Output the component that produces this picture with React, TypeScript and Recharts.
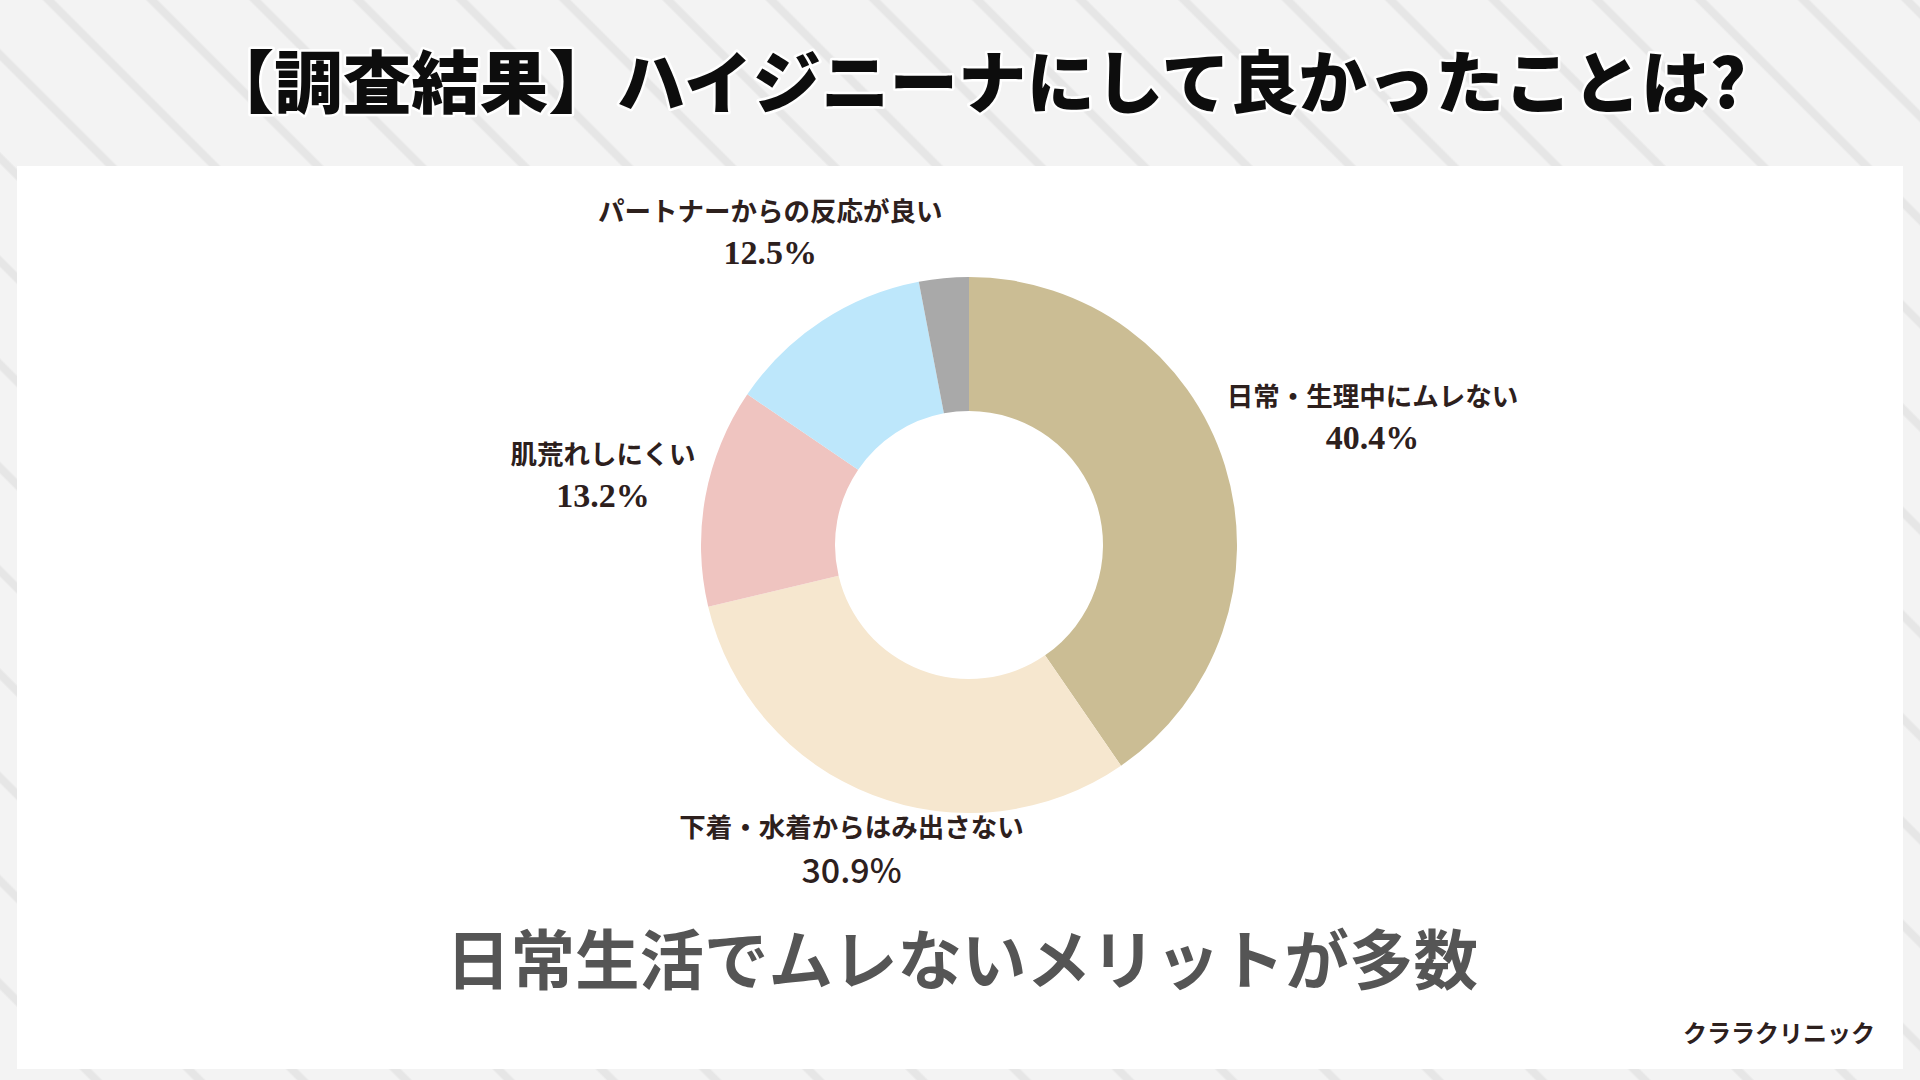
import { PieChart, Pie, Cell } from 'recharts';

// 調査結果（%）
const categories = [
  '日常・生理中にムレない',
  '下着・水着からはみ出さない',
  '肌荒れしにくい',
  'パートナーからの反応が良い',
  'その他',
];
const shares = [40.4, 30.9, 13.2, 12.5, 3.0];

const title = '【調査結果】ハイジニーナにして良かったことは?';
const subtitle = '日常生活でムレないメリットが多数';
const credit = 'クララクリニック';

const data = categories.map((name, i) => ({ name, value: shares[i] }));

const COLORS = ['#cbbd94', '#f6e7cf', '#efc4c0', '#bde7fb', '#a9a9a9'];
// how far out each label sits, as a multiple of the outer radius
const LABEL_REACH = [1.577, 1.22, 1.389, 1.385, 0];
const SERIF_PCT = [true, false, true, true, false];

const RAD = Math.PI / 180;
const INK = '#2d201d';
const JP = '"Noto Sans CJK JP", "Noto Sans", sans-serif';

const renderLabel = (props: any) => {
  const { cx, cy, midAngle, outerRadius, index } = props;
  if (index === 4) return null;
  const r = outerRadius * LABEL_REACH[index];
  const x = cx + r * Math.cos(-midAngle * RAD) + (index === 3 ? 5 : 0);
  const y = cy + r * Math.sin(-midAngle * RAD);
  const serif = SERIF_PCT[index];
  return (
    <g key={`lbl-${index}`}>
      <text x={x} y={y - 25} textAnchor="middle" dominantBaseline="central"
        fontFamily={JP} fontWeight={700} fontSize={26.5} fill={INK}>
        {categories[index]}
      </text>
      <text x={x} y={y + 18} textAnchor="middle" dominantBaseline="central"
        fontFamily={serif ? '"Liberation Serif", serif' : JP}
        fontWeight={serif ? 700 : 500} fontSize={34} fill={INK}>
        {shares[index].toFixed(1)}%
      </text>
    </g>
  );
};

export default function App() {
  return (
    <div style={{
      position: 'absolute', left: 0, top: 0, width: 1920, height: 1080, overflow: 'hidden',
      background: 'repeating-linear-gradient(45deg, #f3f3f3 0px, #f3f3f3 63px, #e6e6e6 65px, #e6e6e6 71px, #f3f3f3 73px)',
    }}>
      <div style={{ position: 'absolute', left: 17, top: 166, width: 1886, height: 903, background: '#ffffff' }} />

      <div style={{ position: 'absolute', left: 0, top: 0 }}>
        <PieChart width={1920} height={1080}>
          <Pie
            data={data}
            dataKey="value"
            nameKey="name"
            cx={964}
            cy={540}
            innerRadius={134}
            outerRadius={268}
            startAngle={90}
            endAngle={-270}
            stroke="none"
            label={renderLabel}
            labelLine={false}
            isAnimationActive={false}
          >
            {data.map((d, i) => (
              <Cell key={d.name} fill={COLORS[i]} />
            ))}
          </Pie>
        </PieChart>
      </div>

      <svg width={1920} height={1080} style={{ position: 'absolute', left: 0, top: 0, pointerEvents: 'none' }}>
        <text x={976} y={78} textAnchor="middle" dominantBaseline="central"
          fontFamily={JP} fontWeight={900} fontSize={68.5} fill="#0d0d0d"
          stroke="#ffffff" strokeWidth={5} paintOrder="stroke" strokeLinejoin="round">
          {title}
        </text>
        <text x={962} y={956} textAnchor="middle" dominantBaseline="central"
          fontFamily={JP} fontWeight={700} fontSize={64.5} fill="#555555">
          {subtitle}
        </text>
        <text x={1779} y={1031} textAnchor="middle" dominantBaseline="central"
          fontFamily={JP} fontWeight={700} fontSize={24} fill={INK}>
          {credit}
        </text>
      </svg>
    </div>
  );
}
